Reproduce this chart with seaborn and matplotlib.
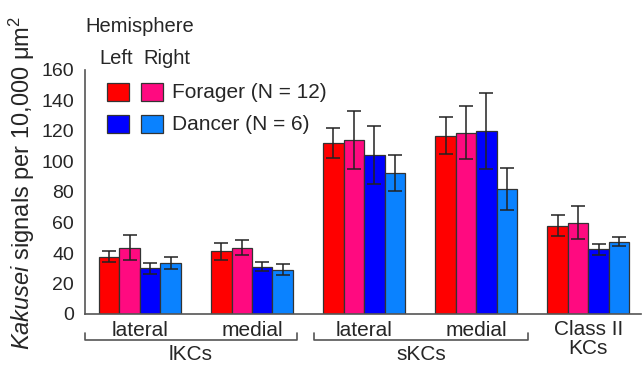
import matplotlib
matplotlib.use("Agg")
import matplotlib.pyplot as plt
from matplotlib.patches import Rectangle
from matplotlib.lines import Line2D
import seaborn as sns
import pandas as pd
import numpy as np

groups = ["lKC lateral", "lKC medial", "sKC lateral", "sKC medial", "Class II"]
series = ["Forager L", "Forager R", "Dancer L", "Dancer R"]
colors = ["#FF0000", "#FF0A80", "#0000FF", "#0A82FF"]

means = {
    "Forager L": [37.5, 41, 112, 117, 58],
    "Forager R": [43.5, 43.5, 114, 119, 60],
    "Dancer L":  [30, 31, 104.5, 120, 42.5],
    "Dancer R":  [33.5, 29, 92.5, 82, 47.5],
}
errors = {
    "Forager L": [3.7, 5.7, 10, 12, 7],
    "Forager R": [8, 5, 19, 17.5, 10.5],
    "Dancer L":  [3.6, 3, 19, 25, 3.7],
    "Dancer R":  [4, 3.6, 12, 13.5, 3.2],
}
group_labels = ["lateral", "medial", "lateral", "medial", "Class II\nKCs"]
ytick_vals = [0, 20, 40, 60, 80, 100, 120, 140, 160]

rows = []
for s in series:
    for g, m, e in zip(groups, means[s], errors[s]):
        rows.append({"group": g, "series": s, "value": m, "err": e})
df = pd.DataFrame(rows)

sns.set_style("white")
plt.rcParams["font.family"] = ["Liberation Sans", "DejaVu Sans"]
plt.rcParams["mathtext.fontset"] = "custom"
plt.rcParams["mathtext.it"] = "Liberation Sans:italic"
plt.rcParams["mathtext.rm"] = "Liberation Sans"

W, H = 643, 368
fig = plt.figure(figsize=(W / 100, H / 100), dpi=100)
ax = fig.add_axes([85 / W, 1 - 314 / H, (641 - 85) / W, (314 - 70) / H])

sns.barplot(data=df, x="group", y="value", hue="series", order=groups,
            hue_order=series, palette=colors, width=0.73, legend=False,
            edgecolor="#333333", linewidth=0.9, saturation=1, errorbar=None, ax=ax)

# error bars, matched to the bars seaborn drew (hue level by hue level)
bars = list(ax.patches)
i = 0
for s in series:
    for g in groups:
        p = bars[i]
        i += 1
        xc = p.get_x() + p.get_width() / 2
        row = df[(df.series == s) & (df.group == g)].iloc[0]
        ax.errorbar(xc, row.value, yerr=row.err, fmt="none", ecolor="#222222",
                    elinewidth=1.1, capsize=5, capthick=1.1, zorder=5)

ax.set_xlim(-0.49, 4.47)
ax.set_ylim(0, 160)
ax.set_yticks(ytick_vals)
ax.set_yticklabels([str(v) for v in ytick_vals], fontsize=14)
ax.set_xticks([0.5, 1.5, 2.5, 3.5])
ax.set_xticklabels([])
ax.tick_params(axis="x", direction="in", length=5, color="#555555", width=1)
ax.tick_params(axis="y", direction="out", length=6, color="#555555", width=1, pad=2)
ax.set_xlabel("")
ax.set_ylabel("")
for side in ["top", "right"]:
    ax.spines[side].set_visible(False)
for side in ["left", "bottom"]:
    ax.spines[side].set_color("#555555")
    ax.spines[side].set_linewidth(1.2)

# category labels under the axis
for k, lab in enumerate(group_labels[:4]):
    fig.text(ax.transData.transform((k, 0))[0] / W, 1 - 330 / H, lab,
             ha="center", va="center", fontsize=15)
fig.text(ax.transData.transform((4, 0))[0] / W, 1 - 339 / H, group_labels[4],
         ha="center", va="center", fontsize=15, linespacing=0.95)

def bracket(x0, x1, ylev, label):
    yl = 1 - ylev / H
    yt = 1 - (ylev - 7) / H
    fig.add_artist(Line2D([x0 / W, x0 / W, x1 / W, x1 / W], [yt, yl, yl, yt],
                          color="#555555", lw=1.2, transform=fig.transFigure))
    fig.text((x0 + x1) / 2 / W, 1 - 355 / H, label, ha="center", va="center", fontsize=15)

bracket(85, 297, 340, "lKCs")
bracket(314, 528, 340, "sKCs")

# legend
fig.text(85 / W, 1 - 27 / H, "Hemisphere", ha="left", va="center", fontsize=14.5)
fig.text(99 / W, 1 - 58 / H, "Left", ha="left", va="center", fontsize=14.5)
fig.text(143 / W, 1 - 58 / H, "Right", ha="left", va="center", fontsize=14.5)
leg_rows = [("Forager (N = 12)", colors[0], colors[1], 83),
            ("Dancer (N = 6)", colors[2], colors[3], 115)]
for text, c1, c2, ytop in leg_rows:
    for x0, c in [(107, c1), (141, c2)]:
        fig.add_artist(Rectangle((x0 / W, 1 - (ytop + 18) / H), 22 / W, 18 / H,
                                 facecolor=c, edgecolor="#333333", lw=0.9,
                                 transform=fig.transFigure))
    fig.text(172 / W, 1 - (ytop + 10) / H, text, ha="left", va="center", fontsize=15)

fig.text(22 / W, 1 - 183 / H, r"$\it{Kakusei}$ signals per 10,000 $\mathrm{\mu}$m$^2$",
         rotation=90, ha="center", va="center", fontsize=17)

fig.savefig("out.png", dpi=100)
